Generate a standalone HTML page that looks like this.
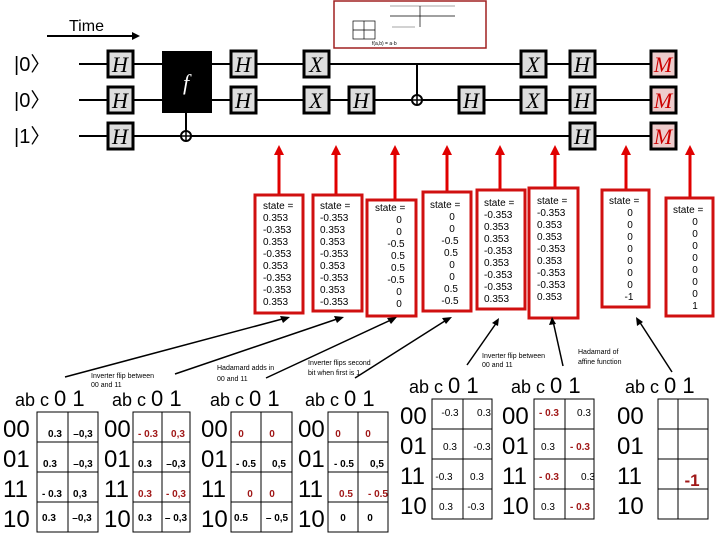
<!DOCTYPE html>
<html><head><meta charset="utf-8"><style>
html,body{margin:0;padding:0;background:#fff;}
svg{display:block;font-family:"Liberation Sans",sans-serif;}
.g{fill:#ddd;stroke:#000;stroke-width:3;}
.gt{font-family:"Liberation Serif",serif;font-style:italic;font-size:22px;text-anchor:middle;}
.st{font-size:10px;}
.rl{font-size:24px;}
.hd{font-size:18px;}
.cv{font-size:10px;font-weight:bold;text-anchor:middle;}
.r{fill:#a01818;}
.an{font-size:7px;}
</style></head><body>
<svg width="720" height="540" viewBox="0 0 720 540">
<!-- Time -->
<text x="69" y="31" font-size="16">Time</text>
<line x1="47" y1="36" x2="134" y2="36" stroke="#000" stroke-width="2"/>
<polygon points="140,36 132,32 132,40" fill="#000"/>
<!-- inset -->
<rect x="334" y="1" width="152" height="47" fill="#fff" stroke="#a02020" stroke-width="1.5"/>
<g stroke="#888" stroke-width="0.7" fill="none">
<line x1="390" y1="6" x2="455" y2="6"/><line x1="390" y1="16" x2="455" y2="16" stroke="#000"/><line x1="392" y1="27" x2="415" y2="27"/>
<line x1="420" y1="6" x2="420" y2="27" stroke="#000"/>
<rect x="353" y="21" width="22" height="18" stroke="#000"/><line x1="364" y1="21" x2="364" y2="39" stroke="#000"/><line x1="353" y1="30" x2="375" y2="30" stroke="#000"/>
</g>
<text x="372" y="45" font-size="5">f(a,b) = a·b</text>
<!-- kets -->
<g font-size="20"><text x="14" y="71">|0〉</text><text x="14" y="107">|0〉</text><text x="14" y="143">|1〉</text></g>
<!-- wires -->
<g stroke="#000" stroke-width="2">
<line x1="79" y1="64" x2="664" y2="64"/><line x1="79" y1="100" x2="664" y2="100"/><line x1="79" y1="136" x2="664" y2="136"/>
<line x1="186" y1="100" x2="186" y2="136"/><line x1="417" y1="64" x2="417" y2="100"/>
</g>
<circle cx="186" cy="136" r="5" fill="#fff" stroke="#000" stroke-width="2"/><line x1="181" y1="136" x2="191" y2="136" stroke="#000" stroke-width="1.5"/><line x1="186" y1="131" x2="186" y2="141" stroke="#000" stroke-width="1.5"/>
<circle cx="417" cy="100" r="5" fill="#fff" stroke="#000" stroke-width="2"/><line x1="412" y1="100" x2="422" y2="100" stroke="#000" stroke-width="1.5"/><line x1="417" y1="95" x2="417" y2="105" stroke="#000" stroke-width="1.5"/>
<rect x="162" y="51" width="50" height="62" fill="#000"/>
<text x="186" y="90" class="gt" fill="#fff" font-size="26">f</text>
<!-- gates -->
<g>
<rect class="g" x="108" y="51" width="25" height="26"/><text class="gt" x="120" y="72">H</text>
<rect class="g" x="108" y="87" width="25" height="26"/><text class="gt" x="120" y="108">H</text>
<rect class="g" x="108" y="123" width="25" height="26"/><text class="gt" x="120" y="144">H</text>
<rect class="g" x="231" y="51" width="25" height="26"/><text class="gt" x="243" y="72">H</text>
<rect class="g" x="231" y="87" width="25" height="26"/><text class="gt" x="243" y="108">H</text>
<rect class="g" x="304" y="51" width="25" height="26"/><text class="gt" x="316" y="72">X</text>
<rect class="g" x="304" y="87" width="25" height="26"/><text class="gt" x="316" y="108">X</text>
<rect class="g" x="349" y="87" width="25" height="26"/><text class="gt" x="361" y="108">H</text>
<rect class="g" x="459" y="87" width="25" height="26"/><text class="gt" x="471" y="108">H</text>
<rect class="g" x="521" y="51" width="25" height="26"/><text class="gt" x="533" y="72">X</text>
<rect class="g" x="521" y="87" width="25" height="26"/><text class="gt" x="533" y="108">X</text>
<rect class="g" x="570" y="51" width="25" height="26"/><text class="gt" x="582" y="72">H</text>
<rect class="g" x="570" y="87" width="25" height="26"/><text class="gt" x="582" y="108">H</text>
<rect class="g" x="570" y="123" width="25" height="26"/><text class="gt" x="582" y="144">H</text>
<rect class="g" x="651" y="51" width="25" height="26" style="fill:#ecc"/><text class="gt" x="663" y="72" fill="#c00">M</text>
<rect class="g" x="651" y="87" width="25" height="26" style="fill:#ecc"/><text class="gt" x="663" y="108" fill="#c00">M</text>
<rect class="g" x="651" y="123" width="25" height="26" style="fill:#ecc"/><text class="gt" x="663" y="144" fill="#c00">M</text>
</g>
<!-- red arrows & stems -->
<g stroke="#e00000" stroke-width="3">
<line x1="279" y1="152" x2="279" y2="195"/><line x1="336" y1="152" x2="336" y2="195"/><line x1="395" y1="152" x2="395" y2="200"/><line x1="447" y1="152" x2="447" y2="192"/>
<line x1="500" y1="152" x2="500" y2="190"/><line x1="555" y1="152" x2="555" y2="188"/><line x1="626" y1="152" x2="626" y2="190"/><line x1="690" y1="152" x2="690" y2="198"/>
</g>
<g fill="#e00000">
<polygon points="279,145 274,155 284,155"/><polygon points="336,145 331,155 341,155"/><polygon points="395,145 390,155 400,155"/><polygon points="447,145 442,155 452,155"/>
<polygon points="500,145 495,155 505,155"/><polygon points="555,145 550,155 560,155"/><polygon points="626,145 621,155 631,155"/><polygon points="690,145 685,155 695,155"/>
</g>
<!-- state boxes -->
<g fill="#fff" stroke="#d01010" stroke-width="3">
<rect x="255" y="195" width="48" height="118"/><rect x="313" y="195" width="49" height="116"/><rect x="367" y="200" width="49" height="116"/><rect x="423" y="192" width="48" height="119"/>
<rect x="477" y="190" width="48" height="119"/><rect x="529" y="188" width="49" height="130"/><rect x="602" y="190" width="47" height="117"/><rect x="666" y="198" width="47" height="118"/>
</g>
<g class="st">
<text x="263" y="209">state =</text><text x="263" y="221">0.353</text><text x="263" y="233">-0.353</text><text x="263" y="245">0.353</text><text x="263" y="257">-0.353</text><text x="263" y="269">0.353</text><text x="263" y="281">-0.353</text><text x="263" y="293">-0.353</text><text x="263" y="305">0.353</text>
<text x="320" y="209">state =</text><text x="320" y="221">-0.353</text><text x="320" y="233">0.353</text><text x="320" y="245">0.353</text><text x="320" y="257">-0.353</text><text x="320" y="269">0.353</text><text x="320" y="281">-0.353</text><text x="320" y="293">0.353</text><text x="320" y="305">-0.353</text>
<text x="375" y="211">state =</text>
<g text-anchor="middle"><text x="399" y="223">0</text><text x="399" y="235">0</text><text x="396" y="247">-0.5</text><text x="398" y="259">0.5</text><text x="398" y="271">0.5</text><text x="396" y="283">-0.5</text><text x="399" y="295">0</text><text x="399" y="307">0</text></g>
<text x="430" y="208">state =</text>
<g text-anchor="middle"><text x="452" y="220">0</text><text x="452" y="232">0</text><text x="450" y="244">-0.5</text><text x="451" y="256">0.5</text><text x="452" y="268">0</text><text x="452" y="280">0</text><text x="451" y="292">0.5</text><text x="450" y="304">-0.5</text></g>
<text x="484" y="206">state =</text><text x="484" y="218">-0.353</text><text x="484" y="230">0.353</text><text x="484" y="242">0.353</text><text x="484" y="254">-0.353</text><text x="484" y="266">0.353</text><text x="484" y="278">-0.353</text><text x="484" y="290">-0.353</text><text x="484" y="302">0.353</text>
<text x="537" y="204">state =</text><text x="537" y="216">-0.353</text><text x="537" y="228">0.353</text><text x="537" y="240">0.353</text><text x="537" y="252">-0.353</text><text x="537" y="264">0.353</text><text x="537" y="276">-0.353</text><text x="537" y="288">-0.353</text><text x="537" y="300">0.353</text>
<text x="609" y="204">state =</text>
<g text-anchor="middle"><text x="630" y="216">0</text><text x="630" y="228">0</text><text x="630" y="240">0</text><text x="630" y="252">0</text><text x="630" y="264">0</text><text x="630" y="276">0</text><text x="630" y="288">0</text><text x="629" y="300">-1</text></g>
<text x="673" y="213">state =</text>
<g text-anchor="middle"><text x="695" y="225">0</text><text x="695" y="237">0</text><text x="695" y="249">0</text><text x="695" y="261">0</text><text x="695" y="273">0</text><text x="695" y="285">0</text><text x="695" y="297">0</text><text x="695" y="309">1</text></g>
</g>
<!-- black annotation lines -->
<g stroke="#000" stroke-width="1.5">
<line x1="65" y1="377" x2="286" y2="318"/><line x1="175" y1="374" x2="340" y2="318"/><line x1="266" y1="378" x2="393" y2="319"/><line x1="355" y1="378" x2="448" y2="319"/>
<line x1="467" y1="365" x2="497" y2="322"/><line x1="563" y1="366" x2="553" y2="321"/><line x1="672" y1="372" x2="639" y2="321"/>
</g>
<g fill="#000">
<polygon points="290,317 280,316 283,323"/><polygon points="344,317 334,316 337,323"/><polygon points="397,317 387,318 391,324"/><polygon points="452,317 442,318 446,324"/>
<polygon points="499,318 492,323 498,326"/><polygon points="552,317 549,325 556,324"/><polygon points="636,317 637,326 643,322"/>
</g>
<g class="an">
<text x="91" y="378">Inverter flip between</text><text x="91" y="387">00 and 11</text>
<text x="217" y="370">Hadamard adds in</text><text x="217" y="381">00 and 11</text>
<text x="308" y="365">Inverter flips second</text><text x="308" y="375">bit when first is 1</text>
<text x="482" y="358">Inverter flip between</text><text x="482" y="367">00 and 11</text>
<text x="578" y="354">Hadamard of</text><text x="578" y="364">affine function</text>
</g>
<!-- tables -->
<g fill="none" stroke="#000" stroke-width="1">
<rect x="37" y="412" width="61" height="120"/><line x1="68" y1="412" x2="68" y2="532"/><line x1="37" y1="442" x2="98" y2="442"/><line x1="37" y1="472" x2="98" y2="472"/><line x1="37" y1="502" x2="98" y2="502"/>
<rect x="133" y="412" width="57" height="120"/><line x1="162" y1="412" x2="162" y2="532"/><line x1="133" y1="442" x2="190" y2="442"/><line x1="133" y1="472" x2="190" y2="472"/><line x1="133" y1="502" x2="190" y2="502"/>
<rect x="231" y="412" width="61" height="120"/><line x1="261" y1="412" x2="261" y2="532"/><line x1="231" y1="442" x2="292" y2="442"/><line x1="231" y1="472" x2="292" y2="472"/><line x1="231" y1="502" x2="292" y2="502"/>
<rect x="328" y="412" width="60" height="120"/><line x1="358" y1="412" x2="358" y2="532"/><line x1="328" y1="442" x2="388" y2="442"/><line x1="328" y1="472" x2="388" y2="472"/><line x1="328" y1="502" x2="388" y2="502"/>
<rect x="432" y="399" width="60" height="120"/><line x1="463" y1="399" x2="463" y2="519"/><line x1="432" y1="429" x2="492" y2="429"/><line x1="432" y1="459" x2="492" y2="459"/><line x1="432" y1="489" x2="492" y2="489"/>
<rect x="534" y="399" width="60" height="120"/><line x1="565" y1="399" x2="565" y2="519"/><line x1="534" y1="429" x2="594" y2="429"/><line x1="534" y1="459" x2="594" y2="459"/><line x1="534" y1="489" x2="594" y2="489"/>
<rect x="658" y="399" width="50" height="120"/><line x1="678" y1="399" x2="678" y2="519"/><line x1="658" y1="429" x2="708" y2="429"/><line x1="658" y1="459" x2="708" y2="459"/><line x1="658" y1="489" x2="708" y2="489"/>
</g>
<!-- headers -->
<g class="hd">
<text x="15" y="406">ab c <tspan font-size="22">0 1</tspan></text>
<text x="112" y="406">ab c <tspan font-size="22">0 1</tspan></text>
<text x="210" y="406">ab c <tspan font-size="22">0 1</tspan></text>
<text x="305" y="406">ab c <tspan font-size="22">0 1</tspan></text>
<text x="409" y="393">ab c <tspan font-size="22">0 1</tspan></text>
<text x="511" y="393">ab c <tspan font-size="22">0 1</tspan></text>
<text x="625" y="393">ab c <tspan font-size="22">0 1</tspan></text>
</g>
<!-- row labels -->
<g class="rl">
<text x="3" y="437">00</text><text x="3" y="467">01</text><text x="3" y="497">11</text><text x="3" y="527">10</text>
<text x="104" y="437">00</text><text x="104" y="467">01</text><text x="104" y="497">11</text><text x="104" y="527">10</text>
<text x="201" y="437">00</text><text x="201" y="467">01</text><text x="201" y="497">11</text><text x="201" y="527">10</text>
<text x="298" y="437">00</text><text x="298" y="467">01</text><text x="298" y="497">11</text><text x="298" y="527">10</text>
<text x="400" y="424">00</text><text x="400" y="454">01</text><text x="400" y="484">11</text><text x="400" y="514">10</text>
<text x="502" y="424">00</text><text x="502" y="454">01</text><text x="502" y="484">11</text><text x="502" y="514">10</text>
<text x="617" y="424">00</text><text x="617" y="454">01</text><text x="617" y="484">11</text><text x="617" y="514">10</text>
</g>
<!-- cell values -->
<g class="cv">
<text x="55" y="437">0.3</text><text x="83" y="437">–0,3</text><text x="50" y="467">0.3</text><text x="83" y="467">–0,3</text><text x="52" y="497">- 0.3</text><text x="80" y="497">0,3</text><text x="49" y="521">0.3</text><text x="82" y="521">–0,3</text>
<text class="r" x="148" y="437">- 0.3</text><text class="r" x="178" y="437">0,3</text><text x="145" y="467">0.3</text><text x="176" y="467">–0,3</text><text class="r" x="145" y="497">0.3</text><text class="r" x="176" y="497">- 0,3</text><text x="145" y="521">0.3</text><text x="176" y="521">– 0,3</text>
<text class="r" x="241" y="437">0</text><text class="r" x="272" y="437">0</text><text x="246" y="467">- 0.5</text><text x="279" y="467">0,5</text><text class="r" x="250" y="497">0</text><text class="r" x="272" y="497">0</text><text x="241" y="521">0.5</text><text x="277" y="521">– 0,5</text>
<text class="r" x="338" y="437">0</text><text class="r" x="368" y="437">0</text><text x="344" y="467">- 0.5</text><text x="377" y="467">0,5</text><text class="r" x="346" y="497">0.5</text><text class="r" x="378" y="497">- 0.5</text><text x="343" y="521">0</text><text x="370" y="521">0</text>
</g>
<g font-size="10" text-anchor="middle">
<text x="450" y="416">-0.3</text><text x="484" y="416">0.3</text><text x="450" y="450">0.3</text><text x="482" y="450">-0.3</text><text x="444" y="480">-0.3</text><text x="477" y="480">0.3</text><text x="446" y="510">0.3</text><text x="476" y="510">-0.3</text>
<text x="549" y="416" class="cv r">- 0.3</text><text x="584" y="416">0.3</text><text x="548" y="450">0.3</text><text x="580" y="450" class="cv r">- 0.3</text><text x="549" y="480" class="cv r">- 0.3</text><text x="588" y="480">0.3</text><text x="548" y="510">0.3</text><text x="580" y="510" class="cv r">- 0.3</text>
</g>
<text x="692" y="486" font-size="17" font-weight="bold" fill="#a01818" text-anchor="middle">-1</text>
</svg>
</body></html>
